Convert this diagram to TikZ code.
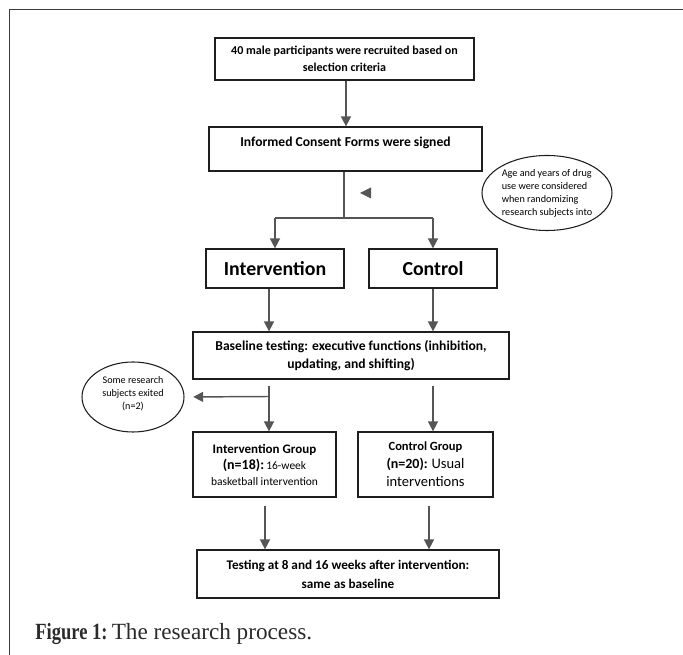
\documentclass[tikz,border=0pt]{standalone}
\usepackage{fontspec}
\usepackage{graphicx}
\newfontfamily\calib{Carlito}
\newfontfamily\capserif{Liberation Serif}
\usetikzlibrary{arrows.meta,shapes.geometric}
\definecolor{ln}{HTML}{555555}
\definecolor{bx}{HTML}{1E1E1E}
\definecolor{fr}{HTML}{3A3A3A}
\definecolor{captxt}{HTML}{2A2A2A}
\begin{document}
\begin{tikzpicture}[x=0.75pt,y=-0.75pt,
  box/.style={draw=bx, line width=0.9pt, inner sep=0pt, align=center, font=\calib\bfseries},
  oval/.style={draw=bx, line width=0.8pt, ellipse, inner sep=0pt, align=center, font=\calib},
  conn/.style={draw=ln, line width=1.1pt},
  arr/.style={conn, -{Triangle[length=7.5pt,width=7.5pt]}}]
\useasboundingbox (0,0) rectangle (683,655);
% frame
\draw[fr, line width=1pt] (9.3,655) -- (9.3,9.3) -- (683,9.3);
% boxes
\node[box, minimum width=194.25pt, minimum height=31.5pt, font=\calib\bfseries\fontsize{9.05}{12.75}\selectfont]
  (b1) at (344.5,59) {40 male participants were recruited based on\\selection criteria};
\node[box, minimum width=204.75pt, minimum height=33pt, text height=7pt, text depth=11pt, font=\calib\bfseries\fontsize{10.2}{12}\selectfont]
  (b2) at (345.5,149) {Informed Consent Forms were signed};
\node[oval, minimum width=97.5pt, minimum height=56.25pt, align=left, font=\calib\fontsize{7.65}{9.75}\selectfont]
  (e1) at (547,193) {Age and years of drug\\use were considered\\when randomizing\\research subjects into};
\node[box, minimum width=103.5pt, minimum height=29.25pt, font=\calib\bfseries\fontsize{14.9}{16}\selectfont]
  (iv) at (275,268.5) {Intervention};
\node[box, minimum width=96pt, minimum height=29.25pt, font=\calib\bfseries\fontsize{14.9}{16}\selectfont]
  (ct) at (433,268.5) {Control};
\node[box, minimum width=237pt, minimum height=35.25pt, font=\calib\bfseries\fontsize{10.2}{13.5}\selectfont]
  (bl) at (351,355.5) {Baseline testing: executive functions (inhibition,\\updating, and shifting)};
\node[oval, minimum width=76.5pt, minimum height=52.5pt, text depth=6pt, font=\calib\fontsize{7.6}{10}\selectfont]
  (e2) at (133,397) {Some research\\subjects exited\\(n=2)};
\node[box, minimum width=107.25pt, minimum height=48.75pt, font=\calib\bfseries\fontsize{9.75}{12}\selectfont]
  (ig) at (264.5,464.5) {Intervention Group\\{\fontsize{10.5}{12.5}\selectfont (n=18):}\,{\mdseries\fontsize{8.6}{12}\selectfont 16-week}\\{\mdseries\fontsize{8.6}{11}\selectfont basketball intervention}};
\node[box, minimum width=101.25pt, minimum height=48.75pt, font=\calib\bfseries\fontsize{9.4}{13.5}\selectfont]
  (cg) at (425.5,464.5) {Control Group\\{\fontsize{10.5}{13.5}\selectfont (n=20):} {\mdseries\fontsize{10.9}{13.5}\selectfont Usual}\\{\mdseries\fontsize{10.9}{13.5}\selectfont interventions}};
\node[box, minimum width=226.5pt, minimum height=36pt, font=\calib\bfseries\fontsize{9.9}{14.25}\selectfont]
  (fin) at (348,574) {Testing at 8 and 16 weeks after intervention:\\same as baseline};
% caption
\node[anchor=base west, inner sep=0pt, text=captxt, font=\capserif\fontsize{17.4}{20}\selectfont]
  (cap) at (35,640) {\scalebox{0.8}[1]{\bfseries Figure 1:}\hspace{0.18em}The research process.};
% connectors
\draw[arr] (b1.south -| 346,0) -- (346,0 |- b2.north);
\draw[conn] (344,0 |- b2.south) -- (344,218) coordinate (split);
\draw[conn] (iv.north |- split) -- (ct.north |- split);
\draw[arr] (iv.north |- split) -- (iv.north);
\draw[arr] (ct.north |- split) -- (ct.north);
\fill[ln] (360,193) -- (371,187.5) -- (371,198.5) -- cycle;
\coordinate (a1) at (269,0);
\coordinate (a2) at (433,0);
\draw[arr] (a1 |- iv.south) -- (a1 |- bl.north);
\draw[arr] (a2 |- ct.south) -- (a2 |- bl.north);
\draw[arr] (269,386) -- (a1 |- ig.north);
\draw[arr] (433,386) -- (a2 |- cg.north);
\draw[arr, shorten >=6.5pt] (269,396.5) -- (e2.east);
\coordinate (c1) at (265,0);
\coordinate (c2) at (429,0);
\draw[arr] (265,506) -- (c1 |- fin.north);
\draw[arr] (429,506) -- (c2 |- fin.north);
\end{tikzpicture}
\end{document}
